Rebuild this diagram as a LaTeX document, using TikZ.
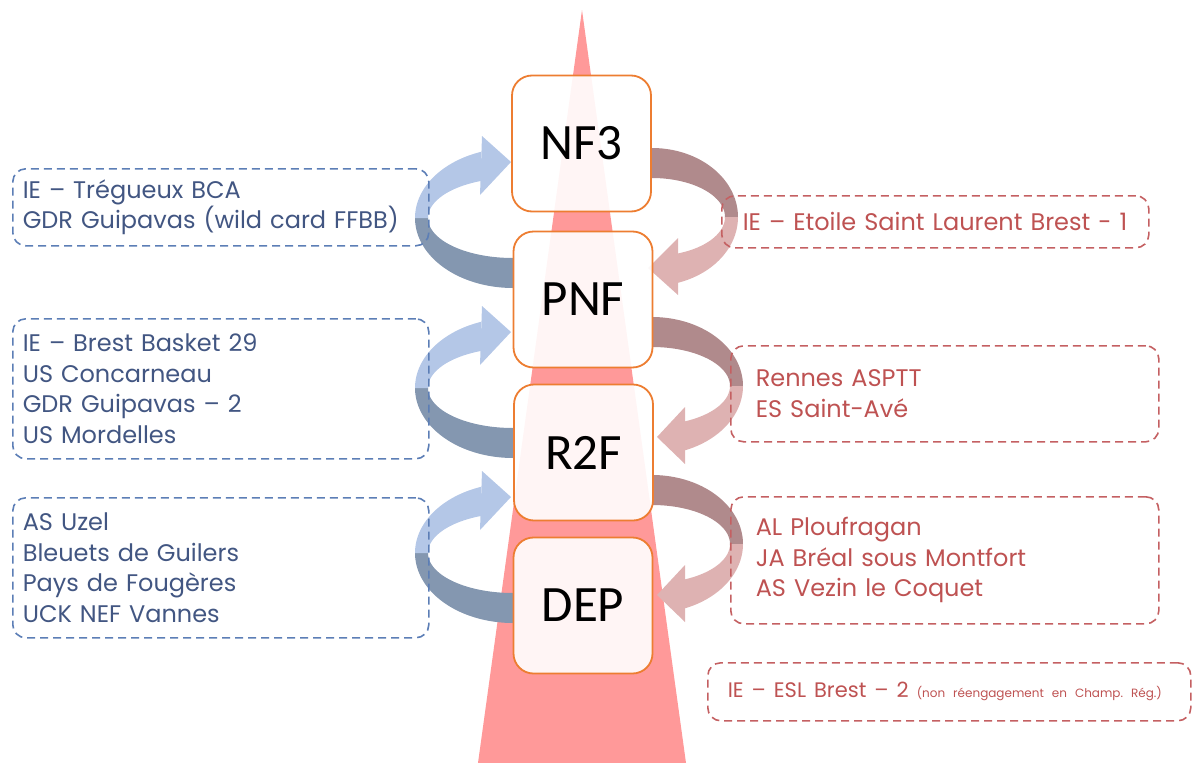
\documentclass[tikz,border=0pt]{standalone}
\usepackage{fontspec}
\setmainfont{Poppins}
\newfontfamily\boxfont{Carlito}
\definecolor{pinkbg}{RGB}{255,153,153}
\definecolor{boxorange}{RGB}{237,125,49}
\definecolor{riblightblue}{RGB}{180,199,231}
\definecolor{ribdarkblue}{RGB}{132,151,176}
\definecolor{ribdarkred}{RGB}{176,138,140}
\definecolor{riblightred}{RGB}{222,178,178}
\definecolor{txtblue}{RGB}{66,86,130}
\definecolor{dashblue}{RGB}{92,126,182}
\definecolor{txtred}{RGB}{190,82,82}
\definecolor{dashred}{RGB}{196,96,98}
\frenchspacing
\newcommand\ribL[1]{%
  \fill[ribdarkblue] plot[domain=90:181,samples=40,variable=\t] ({513+98*cos(\t)},{#1+70*sin(\t)})
     -- plot[domain=181:90,samples=40,variable=\t] ({513+85*cos(\t)},{#1+40*sin(\t)}) -- cycle;
  \fill[riblightblue] plot[domain=180:251,samples=40,variable=\t] ({513+98*cos(\t)},{#1+70*sin(\t)})
     -- plot[domain=248:180,samples=40,variable=\t] ({513+85*cos(\t)},{#1+40*sin(\t)}) -- cycle;
  \fill[riblightblue] (482,#1-82) -- (511,#1-56) -- (480,#1-23) -- cycle;
}
\newcommand\ribR[5]{%
  \pgfmathsetmacro\tO{acos((#4-652)/#2)}%
  \pgfmathsetmacro\tI{acos((#4-652)/#3)}%
  \fill[ribdarkred] plot[domain=270:361,samples=40,variable=\t] ({652+#2*cos(\t)},{#1+69*sin(\t)})
     -- plot[domain=361:270,samples=40,variable=\t] ({652+#3*cos(\t)},{#1+39*sin(\t)}) -- cycle;
  \fill[riblightred] plot[domain=0:\tO,samples=40,variable=\t] ({652+#2*cos(\t)},{#1+69*sin(\t)})
     -- plot[domain=\tI:0,samples=40,variable=\t] ({652+#3*cos(\t)},{#1+39*sin(\t)}) -- cycle;
  \fill[riblightred] (#4,#1+21) -- (#5,#1+51) -- (#4,#1+78) -- cycle;
}
\begin{document}
\begin{tikzpicture}[x=1pt,y=-1pt,
  levelbox/.style={draw=boxorange, line width=1.8pt, rounded corners=20pt, fill=white,
    fill opacity=0.9, text opacity=1, minimum width=139pt, minimum height=136pt, inner sep=0pt,
    font=\boxfont\fontsize{51}{51}\selectfont},
  txtbox/.style={dashed, dash pattern=on 8pt off 5pt, line width=1.6pt, rounded corners=13pt,
    align=left, inner ysep=0pt, anchor=north west, font=\fontsize{24}{30.5}\selectfont},
  lbox/.style={txtbox, draw=dashblue, text=txtblue},
  rbox/.style={txtbox, draw=dashred, text=txtred}]
\useasboundingbox (0,0) rectangle (1192,763);
% background triangle
\fill[pinkbg] (582,10) -- (686,763) -- (478,763) -- cycle;
% ribbons
\ribL{218}
\ribL{388}
\ribL{553}
\ribR{217}{86}{73}{678}{648}
\ribR{386}{91}{78}{685}{657}
\ribR{544}{91}{78}{685}{657}
% level boxes
\node[levelbox] (nf3) at (581.5,143.5) {NF3};
\node[levelbox] (pnf) at (583,299.5) {PNF};
\node[levelbox] (r2f) at (583.5,452.5) {R2F};
\node[levelbox] (dep) at (583,605.5) {DEP};
% left boxes
\node[lbox, inner xsep=10pt, text width=396pt, minimum height=77pt] (l1) at (12,168)
  {IE – Trégueux BCA\\GDR Guipavas (wild card FFBB)};
\node[lbox, inner xsep=10pt, text width=396pt, minimum height=140pt] (l2) at (12,318)
  {IE – Brest Basket 29\\US Concarneau\\GDR Guipavas – 2\\US Mordelles};
\node[lbox, inner xsep=10pt, text width=396pt, minimum height=140pt] (l3) at (12,497)
  {AS Uzel\\Bleuets de Guilers\\Pays de Fougères\\UCK NEF Vannes};
% right boxes
\node[rbox, inner xsep=21pt, text width=385pt, minimum height=52pt] (r1) at (721,195)
  {IE – Etoile Saint Laurent Brest - 1};
\node[rbox, inner xsep=25pt, text width=378pt, minimum height=96pt] (r2) at (730,345)
  {Rennes ASPTT\\ES Saint-Avé};
\node[rbox, inner xsep=25pt, text width=378pt, minimum height=127pt] (r3) at (730,496)
  {AL Ploufragan\\JA Bréal sous Montfort\\AS Vezin le Coquet};
\node[rbox, inner xsep=20pt, text width=443pt, minimum height=58pt] (r4) at (707,662)
  {\mbox{\fontsize{21}{26}\selectfont IE – ESL Brest – 2 {\fontsize{12}{15}\selectfont(non réengagement en Champ. Rég.)}}};
\end{tikzpicture}
\end{document}
